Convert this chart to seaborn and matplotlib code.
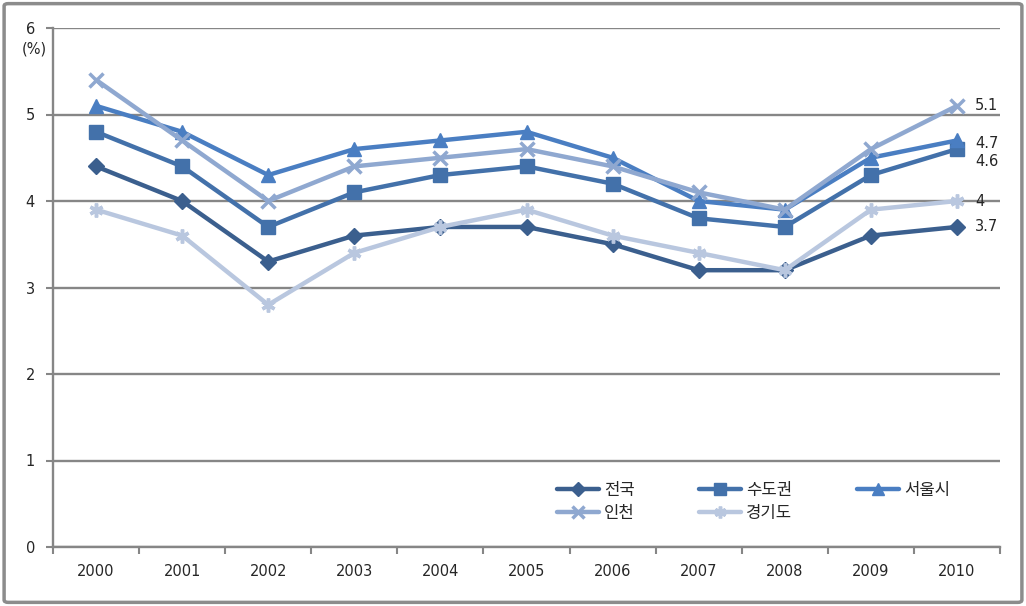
import pandas as pd
import matplotlib.pyplot as plt
import seaborn as sns
from matplotlib.patches import FancyBboxPatch

years = ['2000', '2001', '2002', '2003', '2004', '2005', '2006', '2007', '2008', '2009', '2010']
jeonguk = [4.4, 4.0, 3.3, 3.6, 3.7, 3.7, 3.5, 3.2, 3.2, 3.6, 3.7]
sudogwon = [4.8, 4.4, 3.7, 4.1, 4.3, 4.4, 4.2, 3.8, 3.7, 4.3, 4.6]
seoul = [5.1, 4.8, 4.3, 4.6, 4.7, 4.8, 4.5, 4.0, 3.9, 4.5, 4.7]
incheon = [5.4, 4.7, 4.0, 4.4, 4.5, 4.6, 4.4, 4.1, 3.9, 4.6, 5.1]
gyeonggi = [3.9, 3.6, 2.8, 3.4, 3.7, 3.9, 3.6, 3.4, 3.2, 3.9, 4.0]
end_labels = ['3.7', '4.6', '4.7', '5.1', '4']

names = ['전국', '수도권', '서울시', '인천', '경기도']
series = [jeonguk, sudogwon, seoul, incheon, gyeonggi]
colors = ['#3B5F8E', '#4371AA', '#4A7EC2', '#8FA8D0', '#B9C7DF']
markers = ['D', 's', '^', 'x', (6, 2, 0)]
msizes = [8.5, 10, 10, 10, 10]
label_dy = [0, -9, -2, 0, 0]   # small nudges (points) so end labels don't collide

sns.set_style('white')
plt.rcParams['font.family'] = ['DejaVu Sans', 'Noto Sans CJK KR']

fig = plt.figure(figsize=(10.26, 6.06), dpi=100)
ax = fig.add_axes([53 / 1026, 59 / 606, 947 / 1026, 519 / 606])

# outer frame like the office chart border
fig.patches.append(FancyBboxPatch((0.004, 0.006), 0.992, 0.988, boxstyle='round,pad=0,rounding_size=0.004',
                                  transform=fig.transFigure, fill=False, edgecolor='#8c8c8c', linewidth=2.5))

for name, vals, c, m, ms in zip(names, series, colors, markers, msizes):
    df = pd.DataFrame({'year': list(range(len(years))), 'value': vals})
    sns.lineplot(data=df, x='year', y='value', ax=ax, color=c, linewidth=3.2,
                 marker=m, markersize=ms, markeredgecolor=c,
                 markeredgewidth=2.5 if m in ('x', (6, 2, 0)) else 1, label=name)

# end labels
for vals, lab, dy in zip(series, end_labels, label_dy):
    ax.annotate(lab, xy=(len(years) - 1, vals[-1]), xytext=(13, dy), textcoords='offset points',
                va='center', ha='left', fontsize=10.5)

ax.set_xlim(-0.5, len(years) - 0.5)
ax.set_ylim(0, 6)
ax.set_yticks(range(0, 7))
ax.set_yticklabels([str(i) for i in range(0, 7)], fontsize=10.5)
ax.set_xticks(range(len(years)))
ax.set_xticklabels(years, fontsize=10.5)
ax.set_xticks([i - 0.5 for i in range(len(years) + 1)], minor=True)
ax.tick_params(axis='x', which='major', length=0, pad=12)
ax.tick_params(axis='x', which='minor', length=5, color='#868686', width=1.5, direction='out', bottom=True)
ax.tick_params(axis='y', length=5, color='#868686', width=1.5, direction='out', left=True, pad=8)
ax.set_xlabel('')
ax.set_ylabel('')
ax.grid(axis='y', color='#868686', linewidth=1.7)
ax.set_axisbelow(True)
for s in ['top', 'right']:
    ax.spines[s].set_visible(False)
for s in ['left', 'bottom']:
    ax.spines[s].set_color('#868686')
    ax.spines[s].set_linewidth(1.7)

fig.text(34 / 1026, 1 - 49 / 606, '(%)', ha='center', va='center', fontsize=10.5)

# legend filled row by row like the original: reorder for matplotlib's column-major fill
h, l = ax.get_legend_handles_labels()
order = [0, 3, 1, 4, 2]
ax.legend([h[i] for i in order], [l[i] for i in order], ncol=3, frameon=False,
          loc='upper left', bbox_to_anchor=(557 / 1026, 1 - 481 / 606), bbox_transform=fig.transFigure,
          borderpad=0, borderaxespad=0, fontsize=12, columnspacing=3.9, handlelength=2.5,
          handletextpad=0.3, labelspacing=0.3, markerscale=0.85)

fig.savefig('out.png', dpi=100)
